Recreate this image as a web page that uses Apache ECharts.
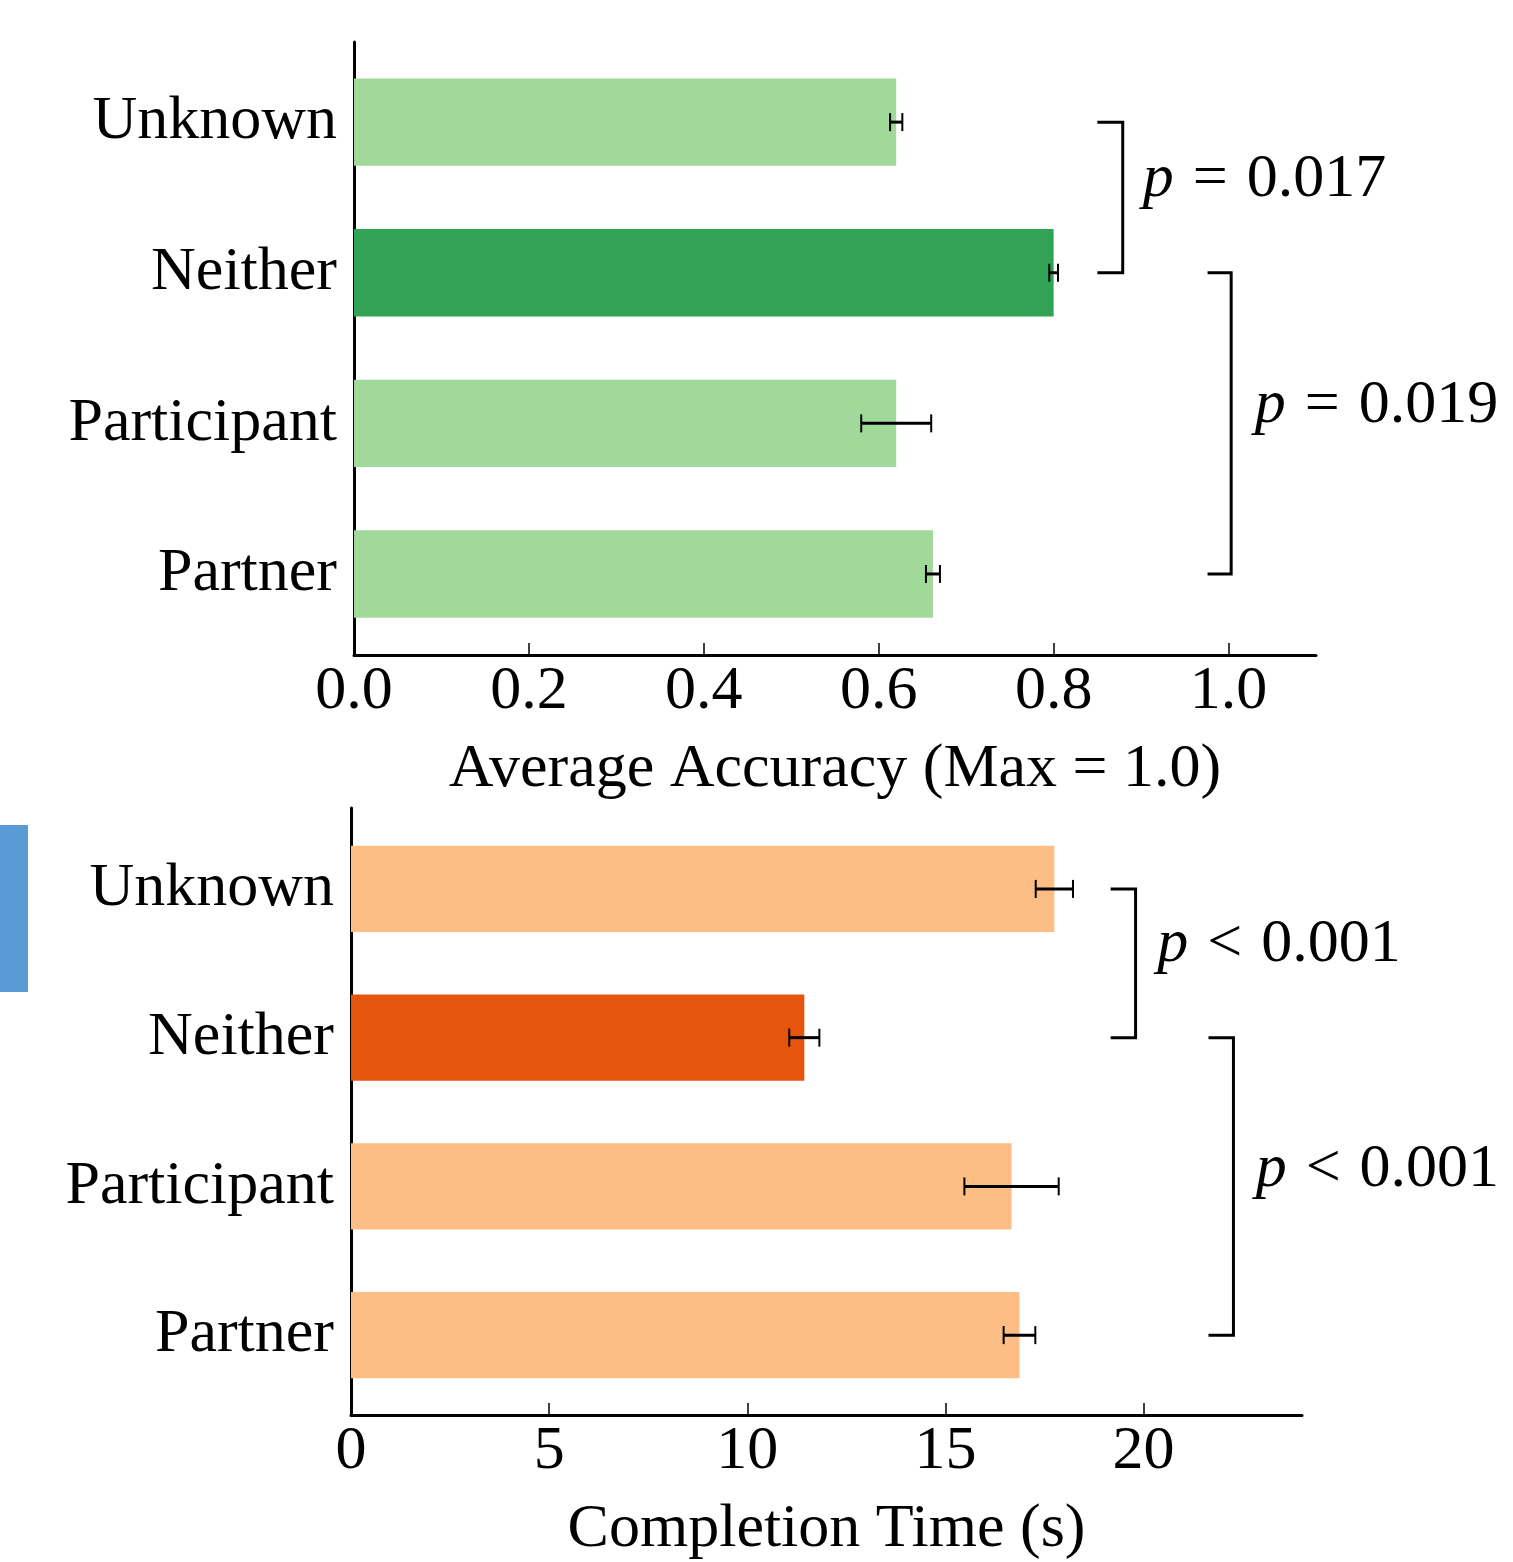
<!DOCTYPE html>
<html><head><meta charset="utf-8">
<script src="https://cdn.jsdelivr.net/npm/echarts@6/dist/echarts.min.js"></script>
<style>html,body{margin:0;padding:0;background:#fff}#c{width:1513px;height:1562px}</style>
</head><body><div id="c"></div>
<script>
// ---- data ----
const categories = ['Unknown', 'Neither', 'Participant', 'Partner'];
const accuracyValues = [0.62, 0.80, 0.62, 0.662];
const accuracyErrors = [0.007, 0.005, 0.040, 0.008];
const timeValues = [17.75, 11.44, 16.67, 16.87];
const timeErrors = [0.47, 0.38, 1.19, 0.40];
const accuracyTicks = [0, 0.2, 0.4, 0.6, 0.8, 1.0];
const timeTicks = [0, 5, 10, 15, 20];
const accuracyComparisons = [
  { from: 0, to: 1, op: '=', value: '0.017' },
  { from: 1, to: 3, op: '=', value: '0.019' }
];
const timeComparisons = [
  { from: 0, to: 1, op: '<', value: '0.001' },
  { from: 1, to: 3, op: '<', value: '0.001' }
];
const highlightIndex = 1;

// ---- layout / style ----
const FONT = '"Liberation Serif", "DejaVu Serif", serif';
const FS = 62;
const BAR_H = 0.58;
const LW = 3;
const accBracketLayout = [
  { inner: 0.85, outer: 0.879, textX: 0.902, textY: 0.385 },
  { inner: 0.976, outer: 1.003, textX: 1.03, textY: 1.88 }
];
const timeBracketLayout = [
  { inner: 19.17, outer: 19.8, textX: 20.35, textY: 0.376 },
  { inner: 21.64, outer: 22.27, textX: 22.83, textY: 1.886 }
];
const catPositions = categories.map((c, i) => i);

function xAxisCfg(gi, min, max, ticks, fmt, name) {
  return {
    gridIndex: gi, type: 'value', min: min, max: max,
    axisLine: { show: true, onZero: false, lineStyle: { color: '#000', width: LW } },
    axisTick: { show: true, inside: true, length: 12, customValues: ticks, lineStyle: { color: '#000', width: 1.5 } },
    axisLabel: { customValues: ticks, formatter: fmt, fontSize: FS, fontFamily: FONT, color: '#000', margin: 6 },
    splitLine: { show: false },
    name: name, nameLocation: 'middle', nameGap: 84,
    nameTextStyle: { fontSize: FS, fontFamily: FONT, color: '#000' }
  };
}
function yAxisCfg(gi, min, max) {
  return {
    gridIndex: gi, type: 'value', inverse: true, min: min, max: max,
    axisLine: { show: true, onZero: false, lineStyle: { color: '#000', width: LW } },
    axisTick: { show: true, inside: true, length: 12, customValues: catPositions, lineStyle: { color: '#000', width: 1.5 } },
    axisLabel: { customValues: catPositions, formatter: v => categories[Math.round(v)], fontSize: FS, fontFamily: FONT, color: '#000', margin: 17 },
    splitLine: { show: false }
  };
}
function barSeries(ai, values, light, dark) {
  return {
    type: 'custom', xAxisIndex: ai, yAxisIndex: ai, silent: true,
    data: values.map((v, i) => [v, i]),
    renderItem(params, api) {
      const v = api.value(0), i = api.value(1);
      const p0 = api.coord([0, i - BAR_H / 2]);
      const p1 = api.coord([v, i + BAR_H / 2]);
      return {
        type: 'rect',
        shape: { x: Math.min(p0[0], p1[0]), y: Math.min(p0[1], p1[1]), width: Math.abs(p1[0] - p0[0]), height: Math.abs(p1[1] - p0[1]) },
        style: { fill: i === highlightIndex ? dark : light }
      };
    }
  };
}
function errSeries(ai, values, errs) {
  return {
    type: 'custom', xAxisIndex: ai, yAxisIndex: ai, silent: true, z: 5,
    data: values.map((v, i) => [v - errs[i], i, v + errs[i]]),
    renderItem(params, api) {
      const i = api.value(1);
      const a = api.coord([api.value(0), i]);
      const b = api.coord([api.value(2), i]);
      const cap = 9;
      const st = { stroke: '#000', lineWidth: LW };
      return {
        type: 'group', children: [
          { type: 'line', shape: { x1: a[0], y1: a[1], x2: b[0], y2: b[1] }, style: st },
          { type: 'line', shape: { x1: a[0], y1: a[1] - cap, x2: a[0], y2: a[1] + cap }, style: { stroke: '#000', lineWidth: 2 } },
          { type: 'line', shape: { x1: b[0], y1: b[1] - cap, x2: b[0], y2: b[1] + cap }, style: { stroke: '#000', lineWidth: 2 } }
        ]
      };
    }
  };
}
function bracketSeries(ai, comps, layout) {
  return {
    type: 'custom', xAxisIndex: ai, yAxisIndex: ai, silent: true, clip: false,
    data: comps.map((c, i) => [layout[i].outer, c.from]),
    renderItem(params, api) {
      const c = comps[params.dataIndex], L = layout[params.dataIndex];
      const a = api.coord([L.inner, c.from]), b = api.coord([L.outer, c.from]);
      const d = api.coord([L.outer, c.to]), e = api.coord([L.inner, c.to]);
      const t = api.coord([L.textX, L.textY]);
      return {
        type: 'group', children: [
          { type: 'polyline', shape: { points: [a, b, d, e] }, style: { stroke: '#000', lineWidth: LW, fill: null } },
          {
            type: 'text', x: t[0], y: t[1],
            style: {
              text: '{i|p}{o|' + c.op + '}' + c.value, align: 'left', verticalAlign: 'middle',
              fontSize: FS, fontFamily: FONT, fill: '#000',
              rich: {
                i: { fontStyle: 'italic', fontSize: FS, fontFamily: FONT, fill: '#000' },
                o: { fontSize: FS, fontFamily: FONT, fill: '#000', padding: [0, 19, 0, 19] }
              }
            }
          }
        ]
      };
    }
  };
}

const chart = echarts.init(document.getElementById('c'));
chart.setOption({
  animation: false,
  backgroundColor: '#fff',
  grid: [
    { left: 354, top: 42, width: 962, height: 613 },
    { left: 351, top: 808, width: 951, height: 608 }
  ],
  xAxis: [
    xAxisCfg(0, 0, 1.1, accuracyTicks, v => v.toFixed(1), 'Average Accuracy (Max = 1.0)'),
    xAxisCfg(1, 0, 24, timeTicks, v => String(v), 'Completion Time (s)')
  ],
  yAxis: [
    yAxisCfg(0, -0.532, 3.538),
    yAxisCfg(1, -0.544, 3.537)
  ],
  graphic: [
    { type: 'rect', left: 0, top: 825, shape: { width: 28, height: 167 }, style: { fill: '#5b9bd5' } }
  ],
  series: [
    barSeries(0, accuracyValues, '#a1d99b', '#31a354'),
    errSeries(0, accuracyValues, accuracyErrors),
    bracketSeries(0, accuracyComparisons, accBracketLayout),
    barSeries(1, timeValues, '#fdbe85', '#e6550d'),
    errSeries(1, timeValues, timeErrors),
    bracketSeries(1, timeComparisons, timeBracketLayout)
  ]
});
</script>
</body></html>
